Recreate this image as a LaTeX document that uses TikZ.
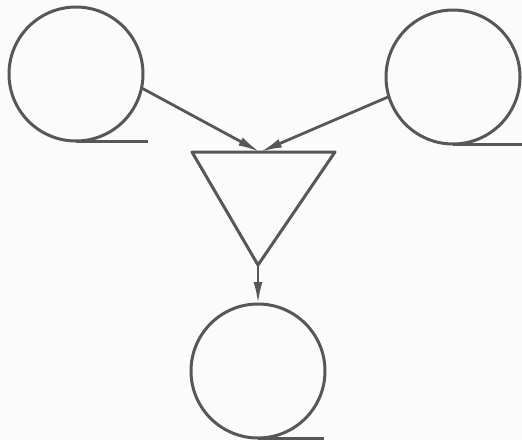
\documentclass[tikz,border=0pt]{standalone}
\usetikzlibrary{arrows.meta}
\definecolor{NetPaper}{gray}{0.985}
\definecolor{NetInk}{gray}{0.34}
\tikzset{
    net/diagram/.style={
        draw=NetInk,
        line width=3pt,
        line cap=round,
        line join=round,
        every node/.style={inner sep=0pt, outer sep=0pt}
    },
    net/unit/.style={circle, draw=NetInk, line width=3pt, minimum size=134pt},
    net/sum/.style={draw=NetInk, line width=3pt},
    net/base/.style={draw=NetInk, line width=3pt, line cap=butt},
    net/link/.style={
        draw=NetInk, line width=2.8pt,
        -{Latex[length=22pt, width=9pt]}
    }
}
\begin{document}
\begin{tikzpicture}[net/diagram, x=1pt, y=-1pt]
    \useasboundingbox (0,0) rectangle (522,440);
    \fill[NetPaper] (0,0) rectangle (522,440);
    % the three circles
    \node[net/unit] (inA) at (76,74) {};
    \node[net/unit] (inB) at (453,77) {};
    \node[net/unit] (out) at (258,371) {};
    \draw[net/base] (inA.south) -- ++(72,0);
    \draw[net/base] (inB.south) -- ++(72,0);
    \draw[net/base] (out.south) -- ++(66,0);
    % the triangle
    \coordinate (sumL) at (192,152);
    \coordinate (sumR) at (335,152);
    \coordinate (apex) at (258,265);
    \coordinate (sumtop) at (260,152);
    \draw[net/sum] (sumL) -- (sumR) -- (apex) -- cycle;
    \draw[net/link] (inA.-12) -- (sumtop);
    \draw[net/link] (inB.-163) -- (sumtop);
    \draw[net/link] (apex) -- (out);
\end{tikzpicture}
\end{document}
